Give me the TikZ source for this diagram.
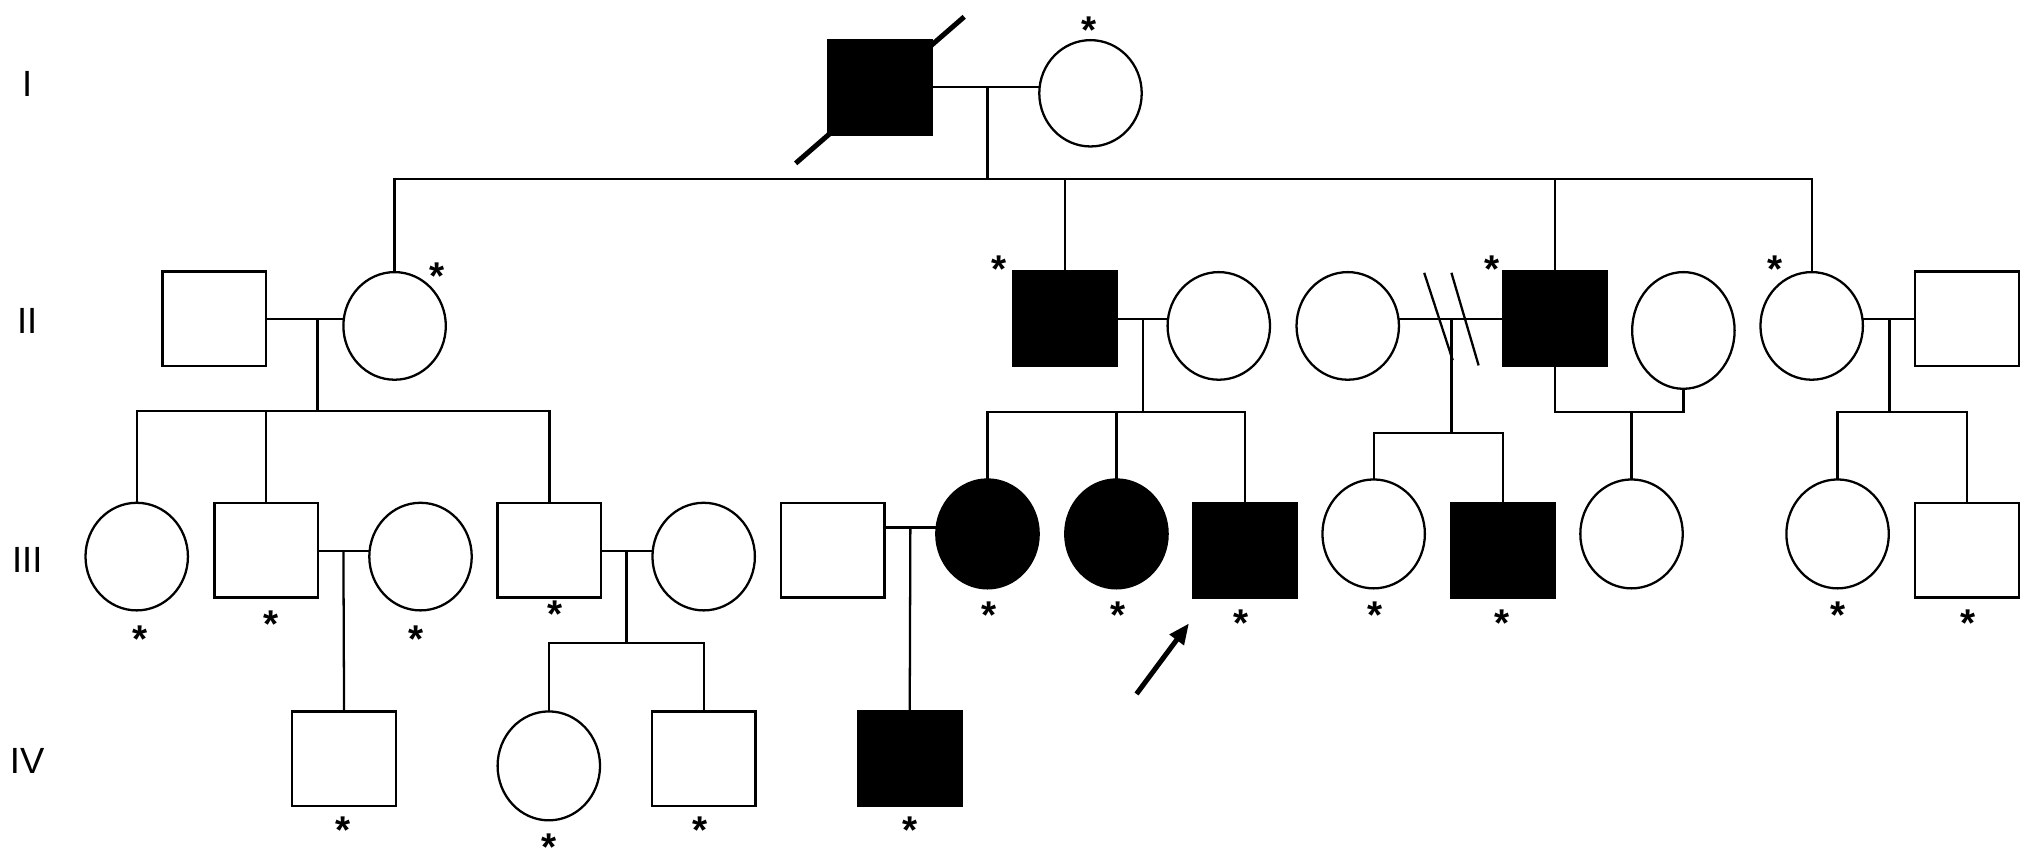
\documentclass[tikz,border=0pt]{standalone}
\usepackage{fontspec}
\setmainfont{Liberation Sans}
\usetikzlibrary{shapes.geometric,arrows.meta}
\tikzset{
  ln/.style={line width=0.5pt},
  male/.style={draw, rectangle, minimum width=0.8cm, minimum height=0.73cm, inner sep=0pt, outer sep=0pt, line width=0.5pt},
  female/.style={draw, ellipse, minimum width=0.79cm, minimum height=0.83cm, inner sep=0pt, outer sep=0pt, line width=0.5pt},
  aff/.style={fill=black},
  gen/.style={font=\fontsize{8}{9}\selectfont, inner sep=0pt},
  starlbl/.style={font=\fontsize{8.5}{9}\selectfont\bfseries, inner sep=0pt, anchor=north},
}
\begin{document}
\begin{tikzpicture}[x=0.01cm, y=-0.01cm]
\useasboundingbox (0,0) rectangle (1568,664);
% generation labels
\node[gen] (gI) at (21,65) {I};
\node[gen] (gII) at (21,248) {II};
\node[gen] (gIII) at (21,432) {III};
\node[gen] (gIV) at (21,587) {IV};
% generation I
\node[male, aff] (I1) at (679,67.5) {};
\node[female, minimum height=0.82cm] (I2) at (841.5,72) {};
% generation II
\node[male] (II1) at (165.5,246) {};
\node[female] (II2) at (304.5,251.5) {};
\node[male, aff] (II3) at (822,246) {};
\node[female] (II4) at (940.5,251.5) {};
\node[female] (II5a) at (1040,251.5) {};
\node[male, aff] (II5) at (1200,246) {};
\node[female, minimum height=0.90cm] (II6) at (1299,255) {};
\node[female] (II7) at (1398,251.5) {};
\node[male] (II8) at (1518,246) {};
% generation III
\node[female] (III1) at (105.5,429.5) {};
\node[male] (III2) at (205.5,424.5) {};
\node[female] (III3) at (324.5,429.5) {};
\node[male] (III4) at (424,424.5) {};
\node[female] (III5) at (543,429.5) {};
\node[male] (III6) at (642.5,424.5) {};
\node[female, aff, minimum height=0.84cm] (III7) at (762,412) {};
\node[female, aff, minimum height=0.84cm] (III8) at (861.5,412) {};
\node[male, aff] (III9) at (960.5,424.5) {};
\node[female, minimum height=0.84cm] (III10) at (1060,412) {};
\node[male, aff] (III11) at (1160,424.5) {};
\node[female, minimum height=0.84cm] (III12) at (1259,412) {};
\node[female, minimum height=0.84cm] (III13) at (1418,412) {};
\node[male] (III14) at (1518,424.5) {};
% generation IV
\node[male] (IV1) at (265.5,585.5) {};
\node[female, minimum height=0.84cm] (IV2) at (423.5,591) {};
\node[male] (IV3) at (543,585.5) {};
\node[male, aff] (IV4) at (702,585.5) {};
% junction coordinates
\coordinate (m1) at (762,67);
\coordinate (s1) at (762,138);
\coordinate (m2) at (245,246);
\coordinate (s2) at (245,317);
\coordinate (m3) at (882,246);
\coordinate (s3) at (882,318);
\coordinate (m4) at (1120,246);
\coordinate (s4) at (1120,334);
\coordinate (s5) at (1259,318);
\coordinate (m6) at (1458,246);
\coordinate (s6) at (1458,318);
\coordinate (m7) at (265,425);
\coordinate (m8) at (483.5,425);
\coordinate (s8) at (483.5,496);
\coordinate (m9) at (702.5,407);
\coordinate (pa) at (877,535.5);
\coordinate (pb) at (917.5,481);
% generation I connectors
\draw[ln] (I1.east |- m1) -- (I2.west |- m1);
\draw[ln] (m1) -- (s1);
\draw[ln] (II2.north) |- (II7.north |- s1) -- (II7.north);
\draw[ln] (II3.north) -- (II3.north |- s1);
\draw[ln] (II5.north) -- (II5.north |- s1);
\draw[line width=1.1pt] ([shift={(-25,22)}]I1.south west) -- ([shift={(25,-18)}]I1.north east);
% generation II connectors
\draw[ln] (II1.east |- m2) -- (II2.west |- m2);
\draw[ln] (m2) -- (s2);
\draw[ln] (III1.north) |- (III4.north |- s2) -- (III4.north);
\draw[ln] (III2.north) -- (III2.north |- s2);
\draw[ln] (II3.east |- m3) -- (II4.west |- m3);
\draw[ln] (m3) -- (s3);
\draw[ln] (III7.north) |- (III9.north |- s3) -- (III9.north);
\draw[ln] (III8.north) -- (III8.north |- s3);
\draw[ln] (II5a.east |- m4) -- (II5.west |- m4);
\draw[ln] ([shift={(-21,-35.5)}]m4) -- ([shift={(1,32)}]m4);
\draw[ln] ([shift={(0,-35.5)}]m4) -- ([shift={(21,36)}]m4);
\draw[ln] (m4) -- (s4);
\draw[ln] (III10.north) |- (III11.north |- s4) -- (III11.north);
\draw[ln] (II5.south) |- (II6.south |- s5) -- (II6.south);
\draw[ln] (s5) -- (III12.north);
\draw[ln] (II7.east |- m6) -- (II8.west |- m6);
\draw[ln] (m6) -- (s6);
\draw[ln] (III13.north) |- (III14.north |- s6) -- (III14.north);
% generation III connectors
\draw[ln] (III2.east |- m7) -- (III3.west |- m7);
\draw[ln] (m7) -- (IV1.north);
\draw[ln] (III4.east |- m8) -- (III5.west |- m8);
\draw[ln] (m8) -- (s8);
\draw[ln] (IV2.north) |- (IV3.north |- s8) -- (IV3.north);
\draw[ln] (III6.east |- m9) -- (III7.west |- m9);
\draw[ln] (m9) -- (IV4.north);
% proband arrow
\draw[line width=1.1pt, -{Triangle[length=1.6mm,width=1.3mm]}] (pa) -- (pb);
% asterisks
\node[starlbl] (a1) at (840,12) {*};
\node[starlbl] (a2) at (337,202) {*};
\node[starlbl] (a3) at (771,197) {*};
\node[starlbl] (a4) at (1151,197) {*};
\node[starlbl] (a5) at (1370,197) {*};
\node[starlbl] (a6) at (108,482) {*};
\node[starlbl] (a7) at (209.5,471) {*};
\node[starlbl] (a8) at (321,482) {*};
\node[starlbl] (a9) at (428,463) {*};
\node[starlbl] (a10) at (763,464) {*};
\node[starlbl] (a11) at (863,464) {*};
\node[starlbl] (a12) at (958,470) {*};
\node[starlbl] (a13) at (1061,464) {*};
\node[starlbl] (a14) at (1159,470) {*};
\node[starlbl] (a15) at (1418,464) {*};
\node[starlbl] (a16) at (1519,470) {*};
\node[starlbl] (a17) at (265,630) {*};
\node[starlbl] (a18) at (424,643) {*};
\node[starlbl] (a19) at (540,630) {*};
\node[starlbl] (a20) at (702,630) {*};
\end{tikzpicture}
\end{document}
